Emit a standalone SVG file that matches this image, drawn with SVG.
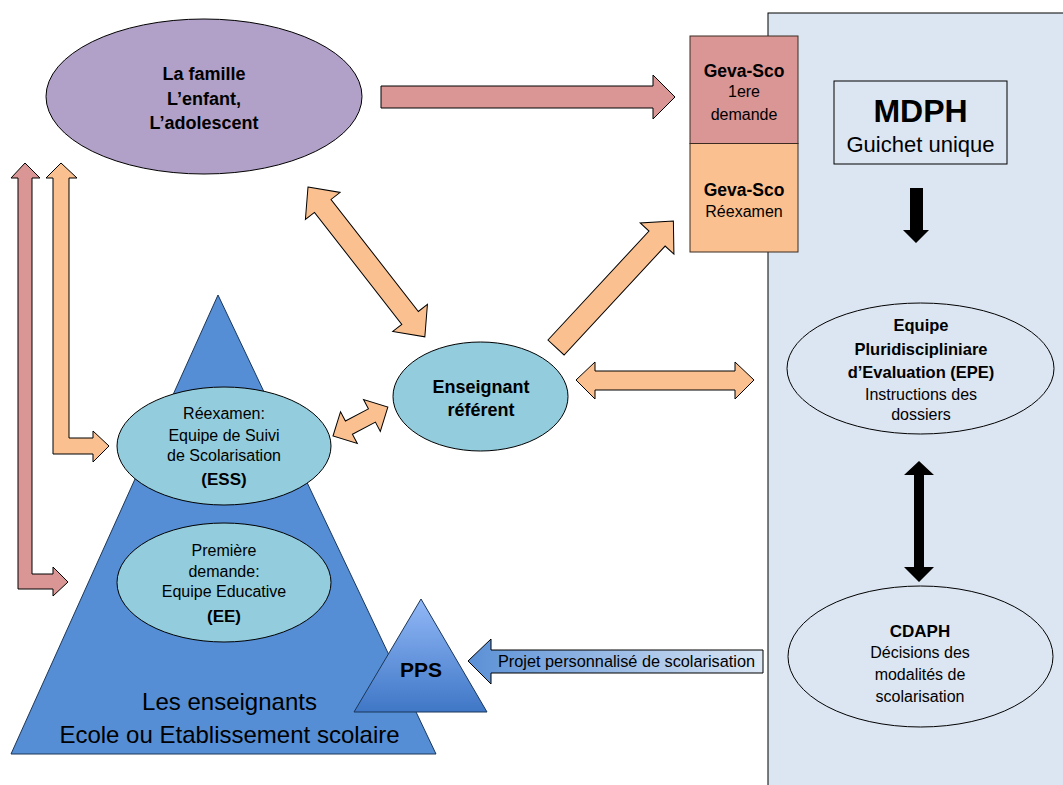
<svg xmlns="http://www.w3.org/2000/svg" width="1063" height="785" viewBox="0 0 1063 785">
<defs>
<style>
text{font-family:"Liberation Sans",Arial,sans-serif;fill:#000;text-anchor:middle}
.b{font-weight:bold}
.r16{font-size:16px}
.b18{font-size:18px;font-weight:bold}
.ln{stroke:#000;stroke-width:1}
.org{fill:#fac090;stroke:#000;stroke-width:1}
.pnk{fill:#d99694;stroke:#000;stroke-width:1}
.cy{fill:#93cddd;stroke:#000;stroke-width:1}
.pale{fill:#dce6f2;stroke:#000;stroke-width:1}
</style>
<linearGradient id="gPPS" x1="0" y1="599" x2="0" y2="712" gradientUnits="userSpaceOnUse">
<stop offset="0" stop-color="#92b8f7"/>
<stop offset="1" stop-color="#3f77c6"/>
</linearGradient>
<linearGradient id="gProj" x1="468" y1="0" x2="763" y2="0" gradientUnits="userSpaceOnUse">
<stop offset="0" stop-color="#5a90d6"/>
<stop offset="1" stop-color="#dde8f5"/>
</linearGradient>
</defs>

<rect id="panel" x="768" y="13" width="400" height="800" class="pale"/>

<g id="connectors">
<polygon class="pnk" points="25,163 40,178 32,178 32,574 53,574 53,567 68,582 53,596 53,589 18,589 18,178 11,178"/>
<polygon class="org" points="61,163 77,178 69,178 69,438 93,438 93,431 109,446 93,462 93,454 53,454 53,178 46,178"/>
<polygon class="pnk" points="381,86 653,86 653,75 675,97 653,119 653,108 381,108"/>
<polygon class="org" transform="translate(308,187) rotate(52.05)" points="0,0 24,-22 24,-10.5 166,-10.5 166,-22 190,0 166,22 166,10.5 24,10.5 24,22"/>
<polygon class="org" transform="translate(556,347.5) rotate(-47.15)" points="0,-11 148.6,-11 148.6,-23 172.6,0 148.6,23 148.6,11 0,11"/>
<polygon class="org" transform="translate(333,436) rotate(-27.8)" points="0,0 18,-18 18,-7.5 44,-7.5 44,-18 62,0 44,18 44,7.5 18,7.5 18,18"/>
<polygon class="org" points="576,380 595,362 595,371 735,371 735,362 754,380 735,399 735,390 595,390 595,399"/>
<polygon fill="#000" points="910,188 923,188 923,230 929,230 916,243 903,230 910,230"/>
<polygon fill="#000" points="919,461 934,475 924,475 924,567 934,567 919,582 904,567 914,567 914,475 904,475"/>
<g id="projet-arrow">
<polygon fill="url(#gProj)" class="ln" points="468,661 491,639 491,650 763,650 763,673 491,673 491,684"/>
<text x="498" y="667" style="font-size:16.3px;text-anchor:start">Projet personnalisé de scolarisation</text>
</g>
</g>

<g id="famille">
<ellipse cx="204" cy="96.5" rx="158" ry="77.5" fill="#b1a0c7" class="ln"/>
<text x="204" y="80" class="b18">La famille</text>
<text x="204" y="105" class="b18">L’enfant,</text>
<text x="204" y="129" class="b18">L’adolescent</text>
</g>

<g id="geva-1ere">
<rect x="690" y="36" width="108" height="107.5" fill="#d99694" stroke="#3a2a20" stroke-width="1"/>
<text x="744" y="77" class="b" style="font-size:17.5px">Geva-Sco</text>
<text x="744" y="97" class="r16">1ere</text>
<text x="744" y="120" class="r16">demande</text>
</g>
<g id="geva-reexamen">
<rect x="690" y="143.5" width="108" height="108.5" fill="#fac090" stroke="#3a2a20" stroke-width="1"/>
<text x="744" y="196" class="b" style="font-size:17.5px">Geva-Sco</text>
<text x="744" y="217" class="r16">Réexamen</text>
</g>

<g id="mdph">
<rect x="834" y="81" width="173" height="83" class="pale"/>
<text x="920.5" y="122" class="b" style="font-size:32px">MDPH</text>
<text x="920.5" y="152" style="font-size:22px">Guichet unique</text>
</g>

<g id="epe">
<ellipse cx="920.5" cy="368.5" rx="133.5" ry="65.5" class="pale"/>
<text x="921" y="331" class="b" style="font-size:16.5px">Equipe</text>
<text x="921" y="355" class="b" style="font-size:16.5px">Pluridiscipliniare</text>
<text x="921" y="378" class="b" style="font-size:16.5px">d’Evaluation (EPE)</text>
<text x="921" y="400" class="r16">Instructions des</text>
<text x="921" y="420" class="r16">dossiers</text>
</g>

<g id="cdaph">
<ellipse cx="920.5" cy="656.5" rx="132.5" ry="70.5" class="pale"/>
<text x="920" y="637" class="b" style="font-size:17px">CDAPH</text>
<text x="920" y="658" class="r16">Décisions des</text>
<text x="920" y="680" class="r16">modalités de</text>
<text x="920" y="702" class="r16">scolarisation</text>
</g>

<g id="ecole">
<polygon points="218,295 436,754 11,754" fill="#558ed5" stroke="#1b3658" stroke-width="1"/>
<text x="229.5" y="710" style="font-size:24px">Les enseignants</text>
<text x="229.5" y="743" style="font-size:24px">Ecole ou Etablissement scolaire</text>
</g>

<g id="ess">
<ellipse cx="224" cy="446" rx="107" ry="59" class="cy"/>
<text x="224" y="419" class="r16">Réexamen:</text>
<text x="224" y="441" class="r16">Equipe de Suivi</text>
<text x="224" y="461" class="r16">de Scolarisation</text>
<text x="224" y="485" class="b" style="font-size:17px">(ESS)</text>
</g>

<g id="ee">
<ellipse cx="224" cy="582.5" rx="107" ry="59.5" class="cy"/>
<text x="224" y="556" class="r16">Première</text>
<text x="224" y="577" class="r16">demande:</text>
<text x="224" y="597" class="r16">Equipe Educative</text>
<text x="224" y="622" class="b" style="font-size:17px">(EE)</text>
</g>

<g id="pps">
<polygon points="421,599 487,712 354,712" fill="url(#gPPS)" stroke="#1b3658" stroke-width="1"/>
<text x="421" y="677" class="b" style="font-size:21px">PPS</text>
</g>

<g id="referent">
<ellipse cx="480.5" cy="396.5" rx="87.5" ry="54.5" class="cy"/>
<text x="481" y="393" class="b18">Enseignant</text>
<text x="481" y="416" class="b18">référent</text>
</g>
</svg>
